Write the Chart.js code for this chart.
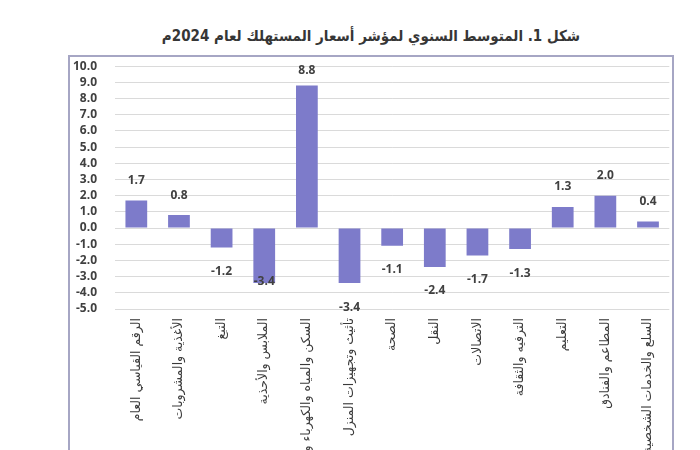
<!DOCTYPE html>
<html lang="ar">
<head>
<meta charset="utf-8">
<script src="https://cdn.jsdelivr.net/npm/chart.js@4.4.1/dist/chart.umd.min.js"></script>
<style>
  html, body { margin: 0; padding: 0; background: #fff; overflow: hidden; }
  body { width: 700px; height: 450px; position: relative; }
  #titulo {
    position: absolute; top: 27px; left: 42px; width: 658px;
    text-align: center; direction: rtl;
    font: bold 15px "DejaVu Sans", sans-serif; color: #363636;
    transform: scaleX(0.9);
  }
  #marco {
    position: absolute; left: 68px; top: 55px; width: 602px; height: 420px;
    border: 2px solid #a6a6c4;
  }
  #grafico { display: block; }
</style>
</head>
<body>
<div id="titulo">شكل 1. المتوسط السنوي لمؤشر أسعار المستهلك لعام 2024م</div>
<div id="marco"><canvas id="grafico" width="602" height="393"></canvas></div>
<script>
const categorias = [
    "الرقم القياسي العام",
    "الأغذية والمشروبات",
    "التبغ",
    "الملابس والأحذية",
    "السكن والمياه والكهرباء والغاز",
    "تأثيث وتجهيزات المنزل",
    "الصحة",
    "النقل",
    "الاتصالات",
    "الترفيه والثقافة",
    "التعليم",
    "المطاعم والفنادق",
    "السلع والخدمات الشخصية",
];
const valores = [1.7, 0.8, -1.2, -3.4, 8.8, -3.4, -1.1, -2.4, -1.7, -1.3, 1.3, 2.0, 0.4];
const ejeMin = -5;
const ejeMax = 10;

// etiquetas de valor encima / debajo de cada barra
const etiquetasValor = {
    id: "etiquetasValor",
    afterDatasetsDraw(chart, args, opts) {
        const { ctx, chartArea } = chart;
        const escalaY = chart.scales.y;
        const meta = chart.getDatasetMeta(0);
        ctx.save();
        ctx.font = "bold 12px 'Open Sans', sans-serif";
        ctx.fillStyle = "#404040";
        ctx.textAlign = "center";
        ctx.textBaseline = "middle";
        meta.data.forEach((barra, i) => {
            const v = valores[i];
            const base = escalaY.getPixelForValue(v);
            let y = v >= 0 ? Math.max(base - 20, chartArea.top + 4) : base + 24;
            if (opts.ajuste && opts.ajuste[i]) y += opts.ajuste[i];
            ctx.fillText(v.toFixed(1), barra.x, y);
        });
        ctx.restore();
    },
};

const ctx = document.querySelector("#grafico").getContext("2d");
new Chart(ctx, {
    type: "bar",
    data: {
        labels: categorias,
        datasets: [
            {
                data: valores,
                backgroundColor: "#7d7bca",
                borderWidth: 0,
                categoryPercentage: 1,
                barPercentage: 0.51,
            },
        ],
    },
    options: {
        responsive: false,
        animation: false,
        layout: { padding: { top: 1, right: 0, left: 0, bottom: 0 } },
        plugins: {
            legend: { display: false },
            tooltip: { enabled: false },
            etiquetasValor: { ajuste: { 3: -26 } },
        },
        scales: {
            x: {
                grid: { display: false, drawTicks: false },
                border: { display: false },
                ticks: {
                    autoSkip: false,
                    minRotation: 90,
                    maxRotation: 90,
                    padding: 9,
                    color: "#3a3a3a",
                    font: { family: "'DejaVu Sans', sans-serif", size: 12.5 },
                },
                afterFit: (s) => { s.height = 141; },
            },
            y: {
                min: ejeMin,
                max: ejeMax,
                grid: {
                    color: "#dadada",
                    lineWidth: 1,
                    drawTicks: true,
                    tickLength: 16,
                    tickColor: "rgba(0,0,0,0)",
                },
                border: { display: false },
                ticks: {
                    autoSkip: false,
                    stepSize: 1,
                    padding: 2,
                    color: "#404040",
                    font: { family: "'Open Sans', sans-serif", size: 12, weight: "bold" },
                    callback: (v) => Number(v).toFixed(1),
                },
                afterFit: (s) => { s.width = 45; },
            },
        },
    },
    plugins: [etiquetasValor],
});
</script>
</body>
</html>
